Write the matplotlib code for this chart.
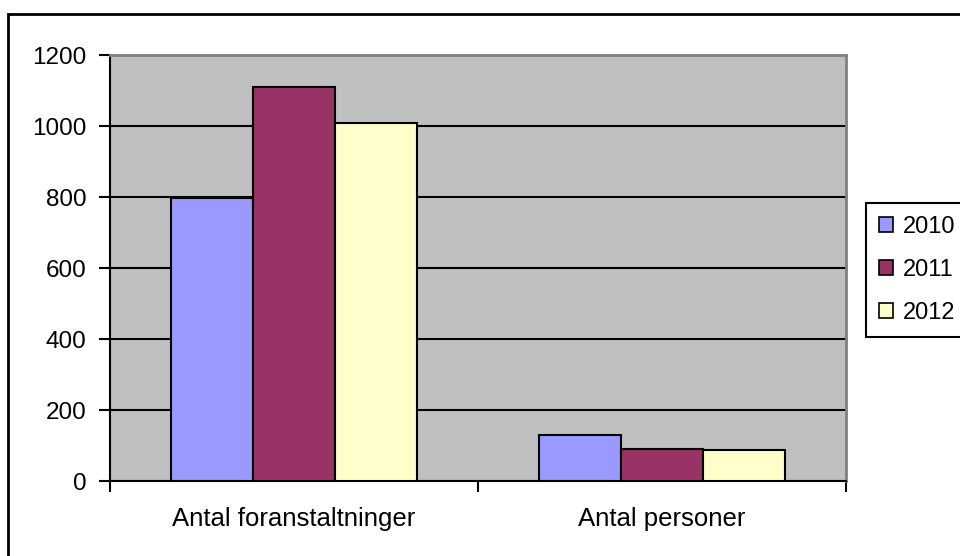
import matplotlib
matplotlib.use('Agg')
import matplotlib.pyplot as plt
from matplotlib.patches import Rectangle, Patch
import numpy as np

plt.rcParams['font.family'] = ['Liberation Sans', 'DejaVu Sans']

# data
categories = ['Antal foranstaltninger', 'Antal personer']
years = ['2010', '2011', '2012']
v2010 = [798, 130]
v2011 = [1112, 89]
v2012 = [1011, 88]
colors = ['#9999ff', '#993366', '#ffffcc']
yticks = [0, 200, 400, 600, 800, 1000, 1200]

W, H = 960, 556
fig = plt.figure(figsize=(W/100, H/100), dpi=100)
ax = fig.add_axes([110/W, (H-481)/H, 736/W, 425.5/H])
ax.set_facecolor('#c0c0c0')

x = np.arange(len(categories))
bw = 0.222
series = [v2010, v2011, v2012]
for i, vals in enumerate(series):
    ax.bar(x + (i-1)*bw, vals, bw, color=colors[i], edgecolor='black',
           linewidth=1.5, zorder=3)

ax.set_xlim(-0.5, len(categories)-0.5)
ax.set_ylim(0, 1200)
ax.set_yticks(yticks)
ax.set_yticklabels([str(v) for v in yticks])
ax.yaxis.grid(True, color='black', linewidth=1.5, zorder=1)
ax.set_axisbelow(True)

# category labels centred, tick marks at the borders
ax.set_xticks(x)
ax.set_xticklabels(categories, fontsize=18.5)
ax.tick_params(axis='x', length=0, pad=19)
ax.set_xticks(np.arange(-0.5, len(categories), 1.0), minor=True)
ax.tick_params(axis='x', which='minor', length=8, width=1.5, direction='out')
ax.tick_params(axis='y', length=8, width=1.5, direction='out', labelsize=17.5, pad=9)

for s in ['left', 'bottom']:
    ax.spines[s].set_color('black')
    ax.spines[s].set_linewidth(1.5)
for s in ['top', 'right']:
    ax.spines[s].set_color('#808080')
    ax.spines[s].set_linewidth(2)

handles = [Patch(facecolor=c, edgecolor='black', linewidth=1.2) for c in colors]
leg = fig.legend(handles, years, loc='upper left', bbox_to_anchor=(866/W, 1-203/H),
                 frameon=True, fancybox=False, edgecolor='black', framealpha=1,
                 fontsize=17, handlelength=0.6, handleheight=0.6,
                 handletextpad=0.4, labelspacing=0.88, borderpad=0.55,
                 borderaxespad=0)
leg.get_frame().set_linewidth(1.5)

# outer chart frame
fig.add_artist(Rectangle((8/W, -0.1), 1.2, 1.1 - 14/H, fill=False,
                         edgecolor='black', linewidth=2, transform=fig.transFigure))

fig.savefig('out.png', dpi=100, facecolor='white')
